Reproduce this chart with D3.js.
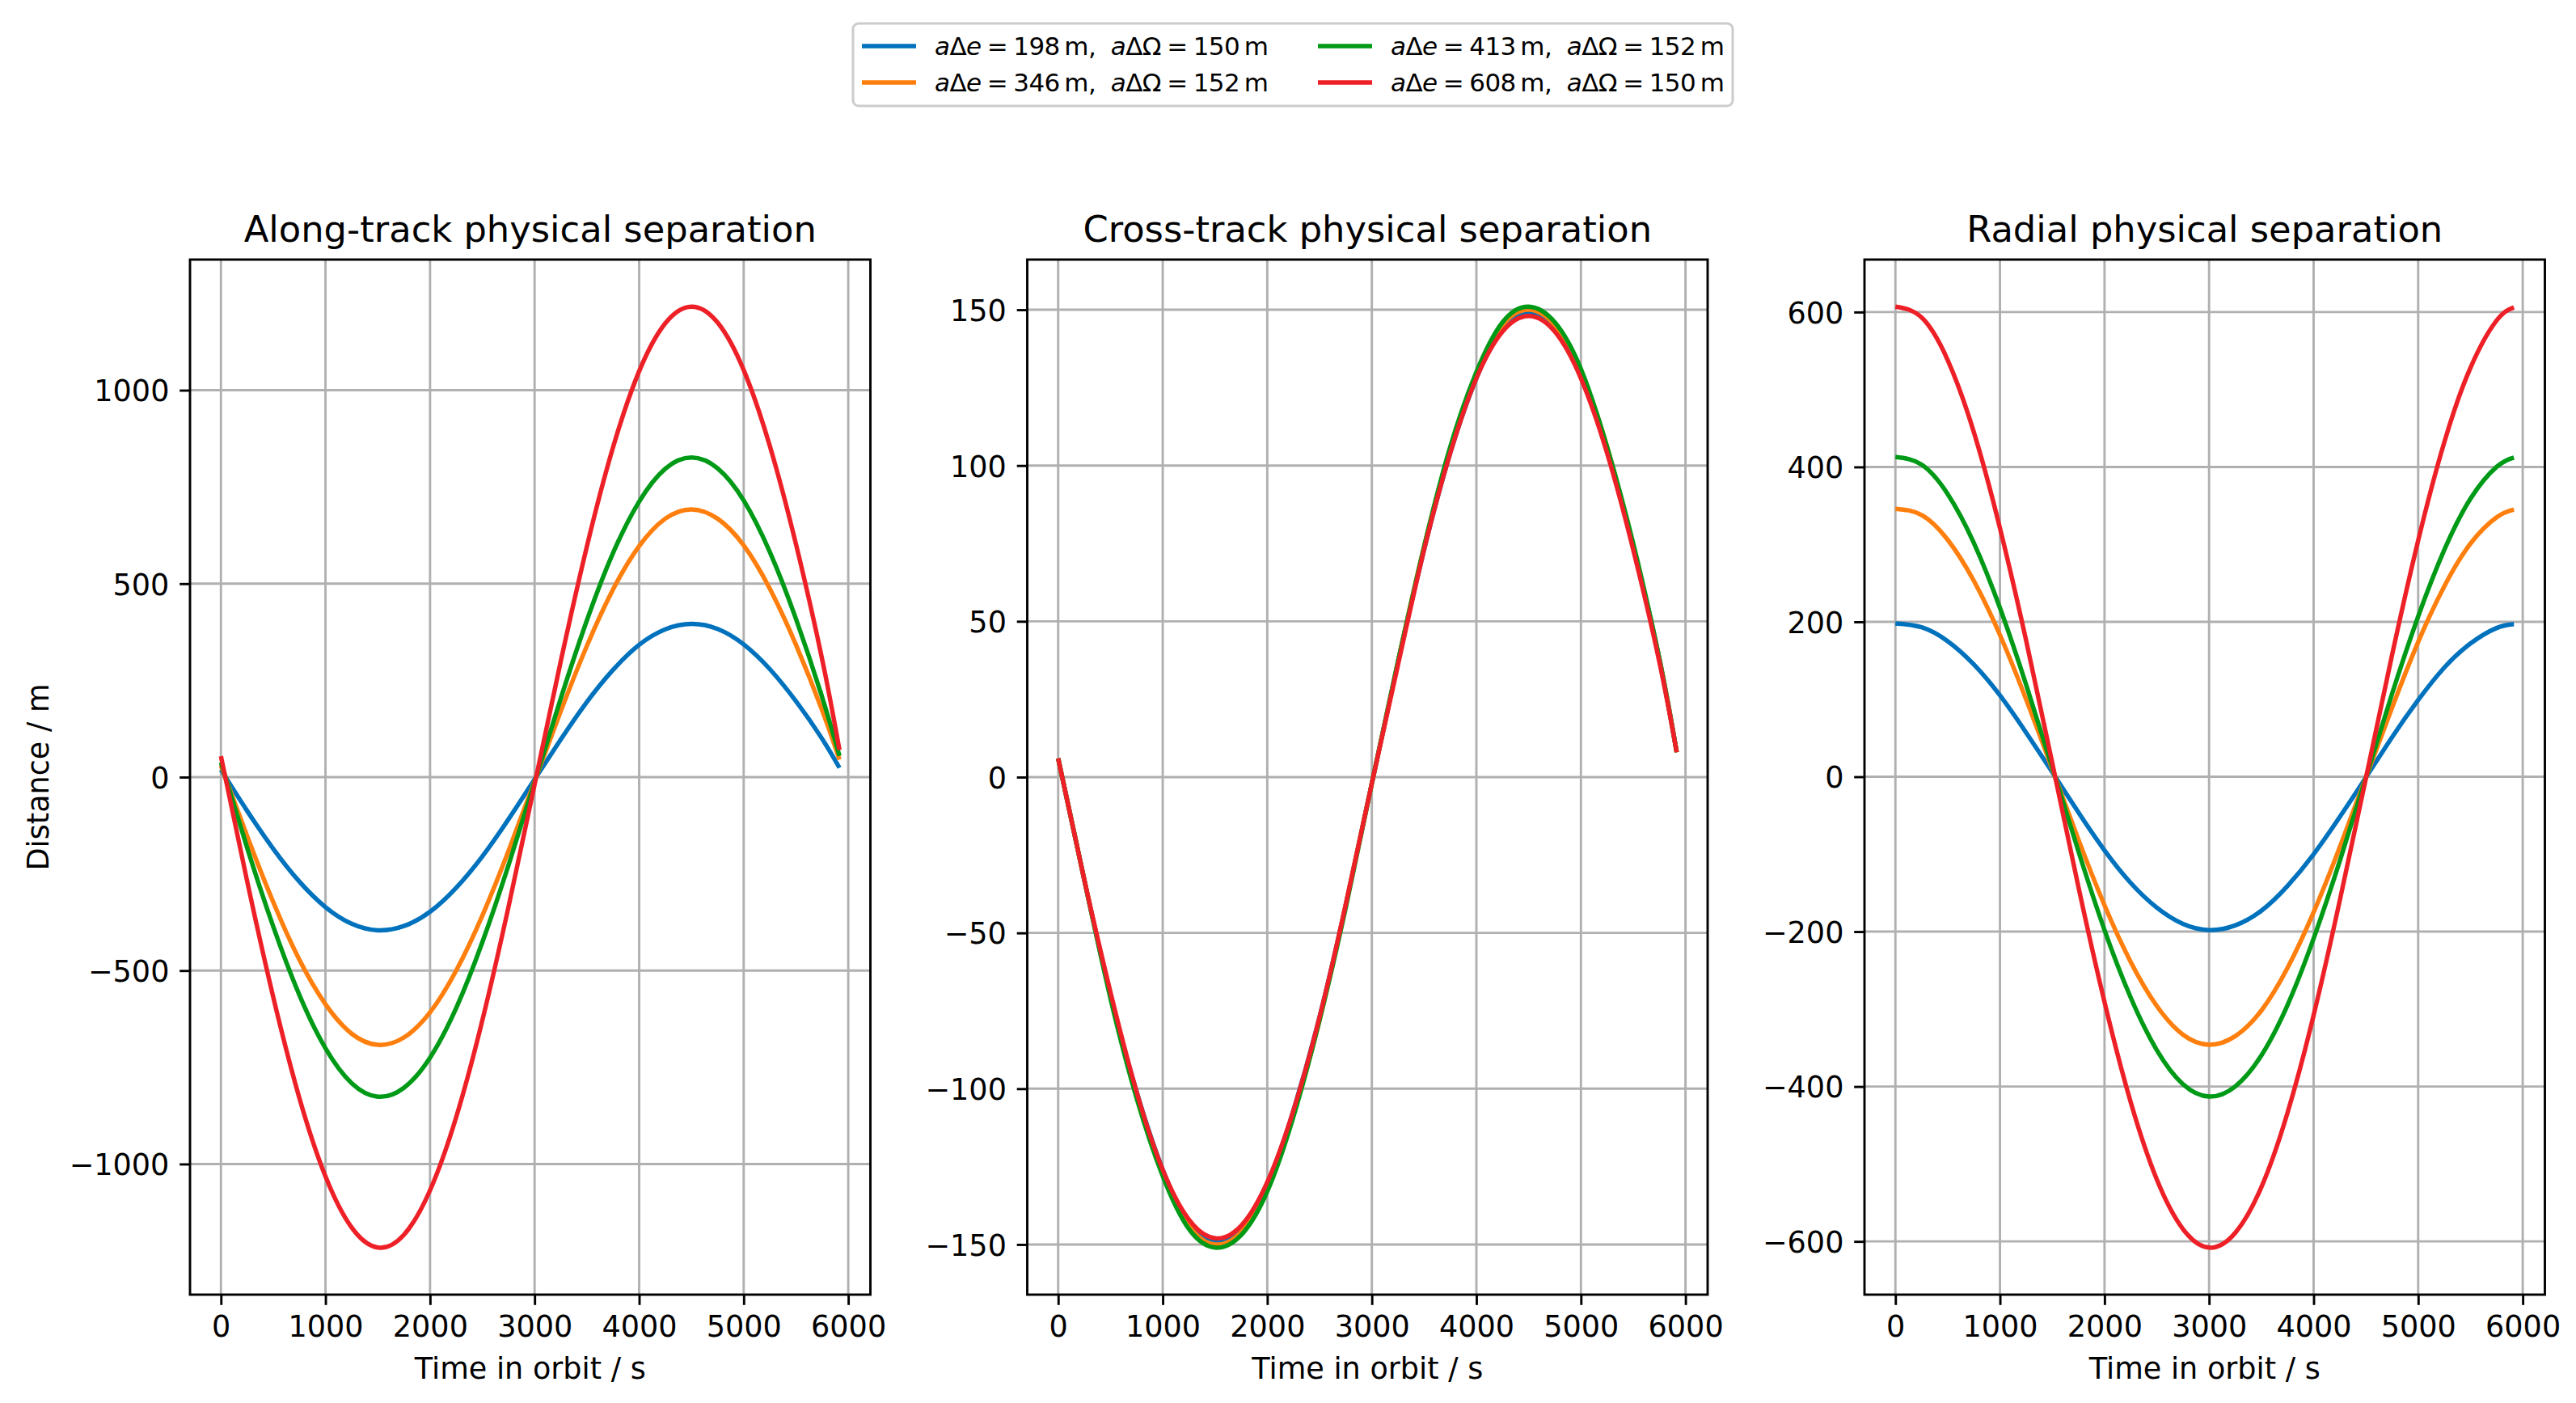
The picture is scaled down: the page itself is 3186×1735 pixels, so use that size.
<!DOCTYPE html>
<html>
<head>
<meta charset="utf-8">
<script src="https://cdn.jsdelivr.net/npm/d3@7"></script>
<style>
  body { margin: 0; background: #fff; }
  text { font-family: "DejaVu Sans", sans-serif; fill: #000; white-space: pre; }
</style>
</head>
<body>
<div id="chart"></div>
<script>
// sample times along the orbit (s)
const times = [0, 250, 500, 750, 1000, 1250, 1500, 1750, 2000, 2250, 2500, 2750, 3000,
               3250, 3500, 3750, 4000, 4250, 4500, 4750, 5000, 5250, 5500, 5750, 5916];

const aDe = [198, 346, 413, 608];
const aDOmega = [150, 152, 152, 150];

// along-track separation (m)
const alongBlue   = [19, -87, -185, -270, -336, -379, -396, -385, -348, -286, -205, -109, -6, 97, 194, 277, 342, 382, 396, 383, 343, 279, 196, 99, 24];
const alongOrange = [30, -152, -323, -472, -587, -663, -692, -673, -608, -500, -358, -191, -11, 170, 339, 485, 597, 668, 692, 668, 599, 487, 342, 173, 45];
const alongGreen  = [38, -182, -386, -563, -701, -791, -826, -803, -725, -597, -427, -228, -13, 203, 405, 579, 712, 797, 826, 798, 715, 582, 409, 207, 55];
const alongRed    = [54, -268, -568, -829, -1032, -1164, -1216, -1183, -1068, -879, -629, -336, -19, 299, 596, 852, 1049, 1173, 1216, 1175, 1052, 856, 602, 305, 70];

// cross-track separation (m)
const crossBlue   = [6, -33, -70, -101, -126, -143, -149, -145, -131, -107, -77, -41, -2, 37, 73, 104, 128, 144, 149, 144, 129, 105, 74, 38, 8];
const crossOrange = [6, -33, -70, -102, -127, -144, -150, -146, -132, -108, -78, -41, -2, 37, 74, 105, 129, 145, 150, 145, 130, 106, 74, 38, 8];
const crossGreen  = [6, -33, -71, -103, -128, -145, -151, -147, -133, -109, -78, -42, -2, 37, 74, 106, 130, 146, 151, 146, 131, 106, 75, 38, 8];
const crossRed    = [6, -33, -69, -101, -126, -142, -148, -144, -130, -107, -77, -41, -2, 36, 73, 104, 128, 143, 148, 143, 128, 104, 73, 37, 8];

// radial separation (m)
const radialBlue   = [198, 193, 175, 145, 105, 57, 6, -46, -95, -137, -169, -190, -198, -192, -173, -141, -100, -52, -1, 51, 99, 141, 172, 192, 197];
const radialOrange = [346, 338, 306, 253, 183, 100, 10, -81, -166, -239, -296, -333, -346, -335, -302, -247, -175, -91, -1, 89, 174, 246, 301, 335, 345];
const radialGreen  = [413, 403, 365, 302, 218, 119, 12, -96, -198, -285, -353, -397, -413, -400, -360, -295, -209, -109, -1, 107, 207, 293, 359, 400, 412];
const radialRed    = [607, 593, 538, 445, 321, 176, 18, -142, -291, -420, -520, -584, -608, -589, -530, -434, -308, -160, -2, 157, 305, 432, 528, 589, 606];

const xTicks = [0, 1000, 2000, 3000, 4000, 5000, 6000];
const alongTicks = [-1000, -500, 0, 500, 1000];
const crossTicks = [-150, -100, -50, 0, 50, 100, 150];
const radialTicks = [-600, -400, -200, 0, 200, 400, 600];

const titles = ['Along-track physical separation', 'Cross-track physical separation', 'Radial physical separation'];
const colors = ['#0072BD', '#FF7F0E', '#009A17', '#EE2027'];

const panels = [
  {title: titles[0], series: [alongBlue, alongOrange, alongGreen, alongRed], ticks: alongTicks, ylabel: 'Distance / m'},
  {title: titles[1], series: [crossBlue, crossOrange, crossGreen, crossRed], ticks: crossTicks},
  {title: titles[2], series: [radialBlue, radialOrange, radialGreen, radialRed], ticks: radialTicks}
];

const W = 3186, H = 1735;
const sizes = {left: 235, panelW: 841.5, gap: 194, top: 321, bottom: 1601, fs: 36.6};

const svg = d3.select('#chart').append('svg')
  .attr('width', W).attr('height', H)
  .style('display', 'block');
svg.append('rect').attr('width', W).attr('height', H).attr('fill', '#fff');

function padded(ext) {
  const m = (ext[1] - ext[0]) * 0.05;
  return [ext[0] - m, ext[1] + m];
}
const fmt = d => d < 0 ? '\u2212' + Math.abs(d) : String(d);

panels.forEach((p, i) => {
  const ph = sizes.bottom - sizes.top;
  const g = svg.append('g')
    .attr('transform', `translate(${sizes.left + i * (sizes.panelW + sizes.gap)},${sizes.top})`);

  const x = d3.scaleLinear().domain(padded(d3.extent(times))).range([0, sizes.panelW]);
  const y = d3.scaleLinear().domain(padded(d3.extent(p.series.flat()))).range([ph, 0]);

  // grid
  g.append('g').selectAll('line').data(xTicks).enter().append('line')
    .attr('x1', d => x(d)).attr('x2', d => x(d)).attr('y1', 0).attr('y2', ph)
    .attr('stroke', '#b0b0b0').attr('stroke-width', 2.9);
  g.append('g').selectAll('line').data(p.ticks).enter().append('line')
    .attr('x1', 0).attr('x2', sizes.panelW).attr('y1', d => y(d)).attr('y2', d => y(d))
    .attr('stroke', '#b0b0b0').attr('stroke-width', 2.9);

  // lines
  const line = d3.line()
    .x((d, j) => x(times[j]))
    .y(d => y(d))
    .curve(d3.curveNatural);
  g.append('g').selectAll('path').data(p.series).enter().append('path')
    .attr('d', line)
    .attr('fill', 'none')
    .attr('stroke', (d, k) => colors[k])
    .attr('stroke-width', 5.5)
    .attr('stroke-linejoin', 'round');

  // axes
  const xAxis = d3.axisBottom(x).tickValues(xTicks).tickFormat(fmt).tickSize(12.8).tickPadding(12.8);
  const yAxis = d3.axisLeft(y).tickValues(p.ticks).tickFormat(fmt).tickSize(12.8).tickPadding(12.8);

  const gx = g.append('g').attr('transform', `translate(0,${ph})`).call(xAxis);
  const gy = g.append('g').call(yAxis);
  [gx, gy].forEach(a => {
    a.select('.domain').remove();
    a.selectAll('.tick line').attr('stroke', '#000').attr('stroke-width', 2.9);
    a.selectAll('.tick text').attr('font-size', sizes.fs).attr('font-family', '"DejaVu Sans", sans-serif');
  });
  gx.selectAll('.tick text').attr('dy', null).attr('y', 52);
  gy.selectAll('.tick text').attr('dy', null).attr('y', 13.3);

  // frame
  g.append('rect')
    .attr('width', sizes.panelW).attr('height', ph)
    .attr('fill', 'none').attr('stroke', '#000').attr('stroke-width', 2.9);

  g.append('text')
    .attr('x', sizes.panelW / 2).attr('y', -22)
    .attr('text-anchor', 'middle')
    .attr('font-size', 44.8)
    .text(p.title);

  g.append('text')
    .attr('x', sizes.panelW / 2).attr('y', ph + 104)
    .attr('text-anchor', 'middle')
    .attr('font-size', sizes.fs)
    .text('Time in orbit / s');

  if (p.ylabel) {
    g.append('text')
      .attr('transform', `translate(${60 - sizes.left},${ph / 2}) rotate(-90)`)
      .attr('text-anchor', 'middle')
      .attr('font-size', sizes.fs)
      .text(p.ylabel);
  }
});

// legend
const leg = svg.append('g');
leg.append('rect')
  .attr('x', 1055).attr('y', 29).attr('width', 1088).attr('height', 102)
  .attr('rx', 7).attr('fill', '#fff').attr('stroke', '#cccccc').attr('stroke-width', 3);

const legPos = [[1066, 57], [1066, 102], [1630, 57], [1630, 102]];
aDe.forEach((v, k) => {
  const [lx, ly] = legPos[k];
  leg.append('line')
    .attr('x1', lx).attr('x2', lx + 67).attr('y1', ly).attr('y2', ly)
    .attr('stroke', colors[k]).attr('stroke-width', 5.5);
  const t = leg.append('text')
    .attr('x', lx + 90).attr('y', ly + 11)
    .attr('font-size', 31)
    .attr('textLength', 413)
    .attr('lengthAdjust', 'spacing');
  t.append('tspan').attr('font-style', 'italic').text('a');
  t.append('tspan').text('\u0394');
  t.append('tspan').attr('font-style', 'italic').text('e');
  t.append('tspan').text(`\u2005=\u2005${v}\u2009m,  `);
  t.append('tspan').attr('font-style', 'italic').text('a');
  t.append('tspan').text('\u0394\u03A9');
  t.append('tspan').text(`\u2005=\u2005${aDOmega[k]}\u2009m`);
});
</script>
</body>
</html>
